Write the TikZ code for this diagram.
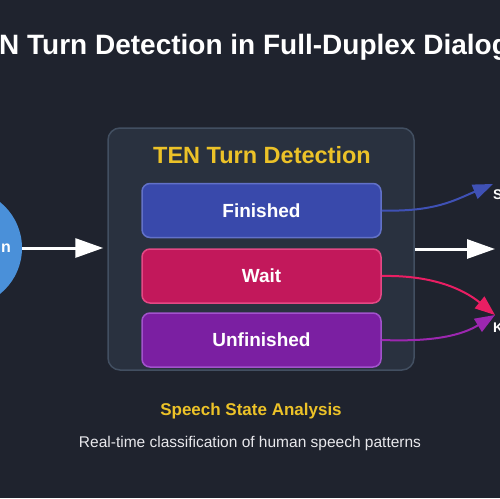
\documentclass[tikz,border=0pt]{standalone}
\usepackage{fontspec}
\setmainfont{Liberation Sans}
\usetikzlibrary{arrows.meta}
\definecolor{bg}{RGB}{31,35,46}
\definecolor{panelfill}{RGB}{41,49,63}
\definecolor{panelline}{RGB}{66,79,97}
\definecolor{finfill}{RGB}{57,73,171}
\definecolor{finline}{RGB}{98,113,200}
\definecolor{waitfill}{RGB}{194,24,91}
\definecolor{waitline}{RGB}{228,72,133}
\definecolor{unffill}{RGB}{123,31,162}
\definecolor{unfline}{RGB}{162,82,204}
\definecolor{humanblue}{RGB}{74,144,217}
\definecolor{gold}{RGB}{236,194,40}
\definecolor{arrblue}{RGB}{63,81,181}
\definecolor{arrpink}{RGB}{233,30,99}
\definecolor{arrpurple}{RGB}{156,39,176}
\definecolor{lightgray}{RGB}{232,232,236}
\begin{document}
\begin{tikzpicture}[x=1pt,y=-1pt,
  statebox/.style={draw, line width=1.5pt, rounded corners=8pt,
    minimum width=239pt, minimum height=54pt, inner sep=0pt, text=white,
    font=\bfseries\fontsize{19}{22}\selectfont},
  whitearrow/.style={draw=white, line width=3pt,
    -{Triangle[length=28pt,width=19pt]}},
  curvearrow/.style={line width=2pt, -{Triangle[length=20pt,width=15pt]}},
  sidetext/.style={anchor=west, inner sep=0pt, text=white,
    font=\bfseries\fontsize{14}{16}\selectfont}]
\useasboundingbox (0,0) rectangle (500,498);
\clip (0,0) rectangle (500,498);
\fill[bg] (0,0) rectangle (500,498);

% title
\node[anchor=base west, inner sep=0pt, text=white,
  font=\bfseries\fontsize{28}{32}\selectfont] (title) at (-1,54)
  {N Turn Detection in Full-Duplex Dialog};

% human circle
\node[circle, fill=humanblue, minimum size=118pt, inner sep=0pt] (human) at (-37,248) {};
\node[anchor=east, inner sep=0pt, text=white,
  font=\bfseries\fontsize{16}{18}\selectfont] (humanlbl) at (11,248) {n};

% main panel
\node[draw=panelline, fill=panelfill, line width=1.5pt, rounded corners=12pt,
  minimum width=306pt, minimum height=242pt, inner sep=0pt] (ten) at (261,249) {};
\node[text=gold, inner sep=0pt, font=\bfseries\fontsize{23.5}{26}\selectfont]
  (tentitle) at (262,155) {TEN Turn Detection};

\node[statebox, fill=finfill, draw=finline] (fin) at (261.5,210.5) {Finished};
\node[statebox, fill=waitfill, draw=waitline] (wait) at (261.5,276) {Wait};
\node[statebox, fill=unffill, draw=unfline] (unf) at (261.5,340) {Unfinished};

% arrows
\draw[whitearrow, shorten >=4pt] (human.east) -- (human.east -| ten.west);
\coordinate (rtip) at (495,249);
\draw[whitearrow] (ten.east) -- (rtip);

\coordinate (stip) at (493,184);
\coordinate (ktip) at (495,315);
\draw[curvearrow, draw=arrblue] (fin.east) .. controls (435,212) and (455,200) .. (stip);
\draw[curvearrow, draw=arrpink] (wait.east) .. controls (430,275) and (462,288) .. (ktip);
\draw[curvearrow, draw=arrpurple] (unf.east) .. controls (435,342) and (462,335) .. (ktip);

\node[sidetext] (slbl) at (493,194.5) {S};
\node[sidetext] (klbl) at (493,327.5) {K};

% bottom texts
\node[text=gold, inner sep=0pt, font=\bfseries\fontsize{17}{20}\selectfont]
  (analysis) at (251,411) {Speech State Analysis};
\node[text=lightgray, inner sep=0pt, font=\fontsize{15.5}{18}\selectfont]
  (desc) at (250,443) {Real-time classification of human speech patterns};
\end{tikzpicture}
\end{document}
